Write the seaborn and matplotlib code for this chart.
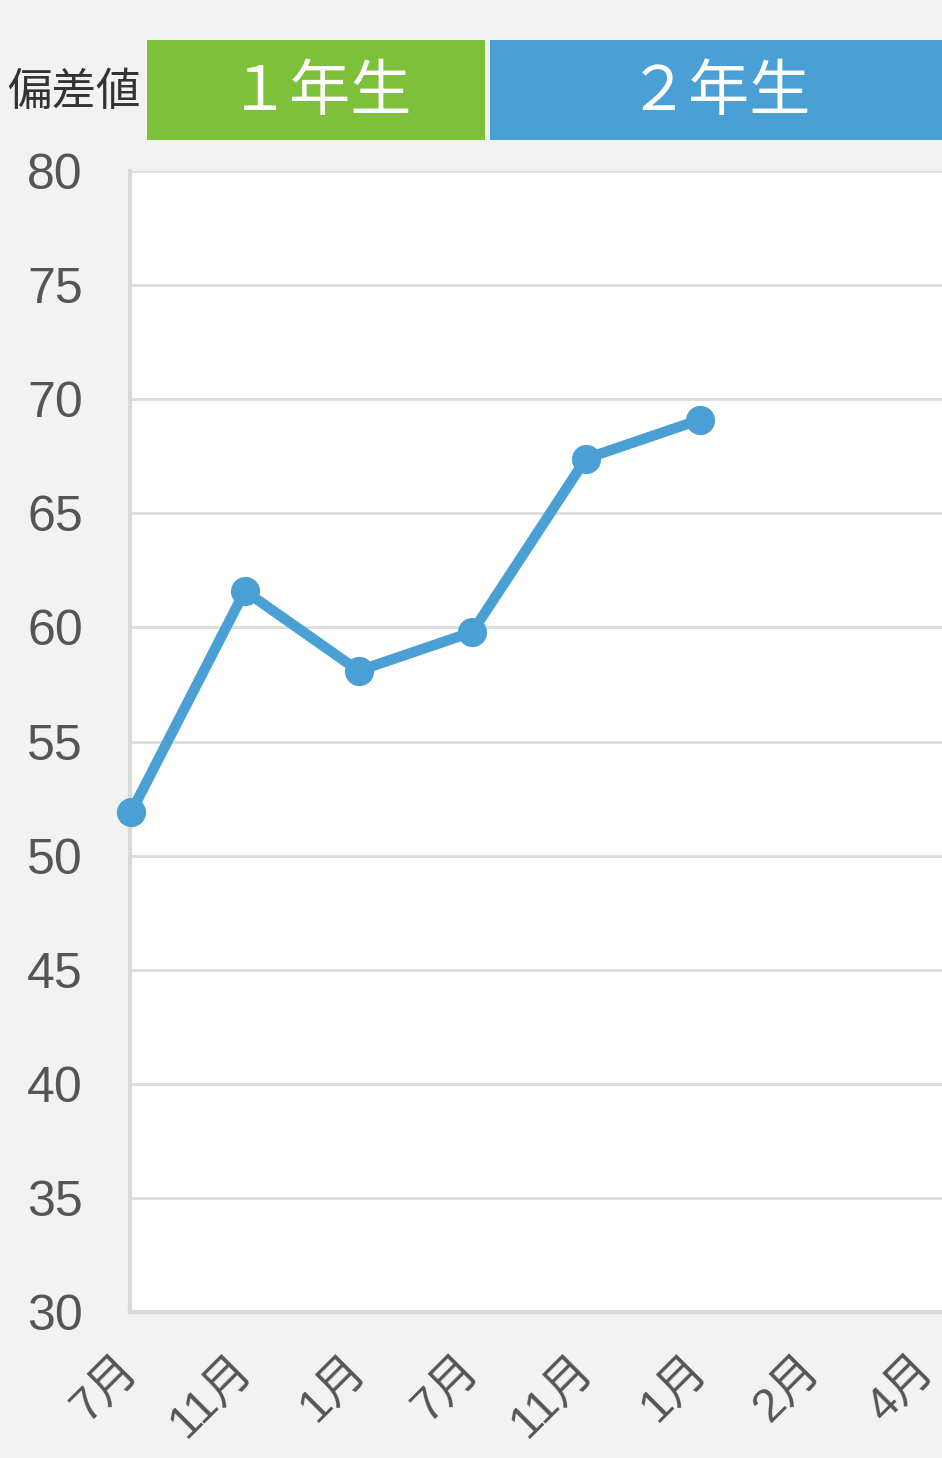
import numpy as np
import pandas as pd
import matplotlib
matplotlib.use("Agg")
import matplotlib.pyplot as plt
import seaborn as sns
from matplotlib.patches import Rectangle
from matplotlib.transforms import ScaledTranslation

# data
months = ["7月", "11月", "1月", "7月", "11月", "1月", "2月", "4月"]
scores = [51.9, 61.6, 58.1, 59.8, 67.4, 69.1]
y_ticks = [30, 35, 40, 45, 50, 55, 60, 65, 70, 75, 80]
grades = ["１年生", "２年生"]

GREEN = "#7DC03A"
BLUE = "#4AA0D5"
BG = "#F2F2F2"
GRID = "#DCDCDC"
TEXT = "#555555"

sns.set_theme(style="white")
plt.rcParams['font.family'] = ['Liberation Sans', 'Noto Sans CJK JP', 'DejaVu Sans']

df = pd.DataFrame({"pos": np.arange(len(scores)), "score": scores})

fig = plt.figure(figsize=(9.42, 14.58), dpi=100, facecolor=BG)
ax = fig.add_axes([0.138, 0.1001, 0.862, 0.7826])
ax.set_facecolor("white")

sns.lineplot(data=df, x="pos", y="score", ax=ax, color=BLUE, linewidth=7.5,
             marker="o", markersize=21, markeredgewidth=0, zorder=3, clip_on=False)

ax.set_ylim(30, 80)
ax.set_xlim(-0.01, 7.13)
ax.set_yticks(y_ticks)
ax.set_yticklabels([str(v) for v in y_ticks], fontsize=36, color=TEXT)
ax.set_xticks(np.arange(len(months)))
ax.set_xticklabels(months, fontsize=34, color=TEXT, rotation=45,
                   ha="right", va="center", rotation_mode="anchor")
shift = ScaledTranslation(-0.02, 0, fig.dpi_scale_trans)
for lbl in ax.get_xticklabels():
    lbl.set_transform(lbl.get_transform() + shift)
ax.set_xlabel("")
ax.set_ylabel("")

ax.grid(axis="y", color=GRID, linewidth=2)
ax.tick_params(axis="y", length=32, width=2, color=GRID, pad=2)
ax.tick_params(axis="x", length=0, pad=36)
for side in ["top", "right"]:
    ax.spines[side].set_visible(False)
for side in ["left", "bottom"]:
    ax.spines[side].set_color("#D9D9D9")
    ax.spines[side].set_linewidth(3)

# header boxes for the school years
fig.add_artist(Rectangle((0.156, 0.904), 0.359, 0.0686, transform=fig.transFigure,
                         facecolor=GREEN, edgecolor="none"))
fig.add_artist(Rectangle((0.520, 0.904), 0.48, 0.0686, transform=fig.transFigure,
                         facecolor=BLUE, edgecolor="none"))
fig.text(0.340, 0.935, grades[0], fontsize=44, color="white", ha="center", va="center")
fig.text(0.764, 0.935, grades[1], fontsize=44, color="white", ha="center", va="center")
fig.text(0.078, 0.936, "偏差値", fontsize=32, color="#333333", ha="center", va="center")

fig.savefig("out.png", dpi=100, facecolor=BG)
